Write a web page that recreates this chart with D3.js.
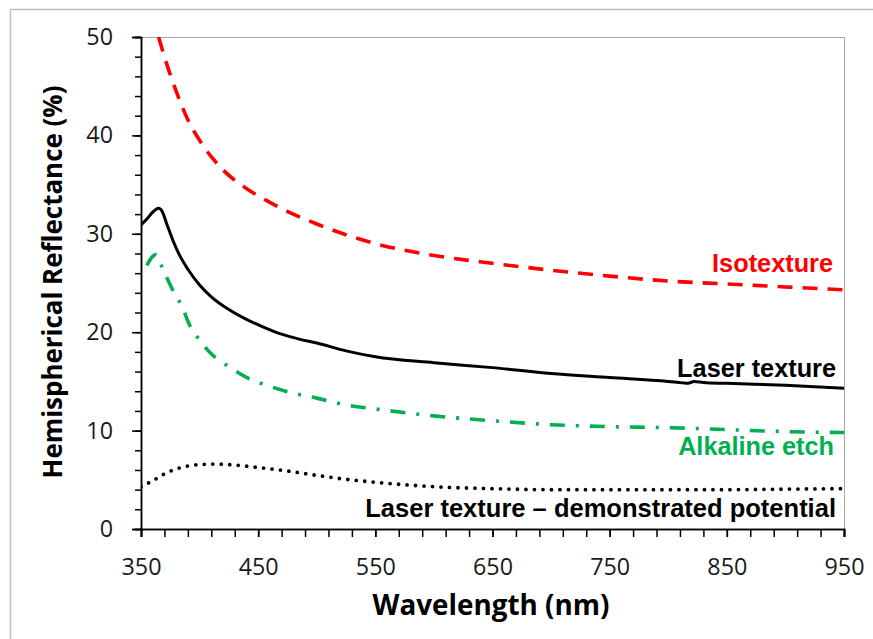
<!DOCTYPE html>
<html><head><meta charset="utf-8">
<script src="https://cdn.jsdelivr.net/npm/d3@7"></script>
<style>body{margin:0;background:#fff}</style></head>
<body>
<svg id="c" width="873" height="639"></svg>
<script>
// ---- data (wavelength nm, reflectance %) ----
const isotexture = [[365,50],[370,48],[380,44.5],[390,41.6],[400,39.5],[420,36.5],[440,34.6],[460,33.2],[480,32],[500,31],[550,29],[600,27.8],[650,27],[700,26.3],[750,25.7],[800,25.2],[850,24.9],[900,24.6],[950,24.3]];
const laserTexture = [[350,30.9],[355,31.5],[360,32.2],[365,32.6],[368,32.3],[372,31],[377,29.4],[383,27.8],[390,26.4],[400,24.8],[410,23.6],[425,22.3],[440,21.3],[455,20.5],[470,19.8],[485,19.3],[500,18.9],[525,18.1],[550,17.5],[600,16.9],[650,16.4],[700,15.8],[750,15.4],[800,15.0],[812,14.85],[817,14.8],[822,15.0],[830,14.9],[850,14.8],[900,14.6],[950,14.3]];
const alkalineEtch = [[355,26.8],[360,27.7],[363,27.9],[368,26.6],[377,24.3],[385,22.6],[392,20.6],[400,19.2],[410,17.8],[425,16.5],[440,15.4],[460,14.5],[480,13.8],[500,13.3],[525,12.6],[550,12.2],[600,11.5],[650,11.0],[700,10.6],[750,10.4],[800,10.3],[850,10.1],[900,9.9],[950,9.8]];
const demonstrated = [[350,4.3],[360,4.9],[370,5.6],[380,6.1],[390,6.4],[400,6.55],[415,6.6],[430,6.5],[450,6.25],[475,5.9],[500,5.45],[525,5.05],[550,4.75],[575,4.5],[600,4.3],[650,4.1],[700,4.0],[750,4.0],[800,4.0],[850,4.0],[900,4.05],[950,4.1]];
const xMajorTicks = [350,450,550,650,750,850,950];
const yMajorTicks = [0,10,20,30,40,50];
const seriesLabels = ["Isotexture","Laser texture","Alkaline etch","Laser texture \u2013 demonstrated potential"];
const xTitle = "Wavelength (nm)";
const yTitle = "Hemispherical Reflectance (%)";

const svg = d3.select("#c");
const x = d3.scaleLinear([350,950],[141,844]);
const y = d3.scaleLinear([0,50],[529,37]);

// outer chart border (left & top visible)
svg.append("path").attr("d","M10.5,639 V9.5 H873").attr("fill","none").attr("stroke","#bfbfbf").attr("stroke-width",1.5);
// plot area border (top & right)
svg.append("path").attr("d",`M${x(350)},${y(50)+0.5} H${x(950)+0.5} V${y(0)}`).attr("fill","none").attr("stroke","#a6a6a6").attr("stroke-width",1);

svg.append("clipPath").attr("id","clip").append("rect")
  .attr("x",x(350)).attr("y",y(50)).attr("width",x(950)-x(350)).attr("height",y(0)-y(50));

const line = d3.line().x(d=>x(d[0])).y(d=>y(d[1])).curve(d3.curveMonotoneX);
const g = svg.append("g").attr("clip-path","url(#clip)");
g.append("path").datum(demonstrated).attr("d",line).attr("fill","none").attr("stroke","#000").attr("stroke-width",3.8).attr("stroke-linecap","round").attr("stroke-dasharray","0 8.5");
g.append("path").datum(alkalineEtch).attr("d",line).attr("fill","none").attr("stroke","#00b050").attr("stroke-width",3.6).attr("stroke-dasharray","15 11 3 11");
g.append("path").datum(laserTexture).attr("d",line).attr("fill","none").attr("stroke","#000").attr("stroke-width",3);
g.append("path").datum(isotexture).attr("d",line).attr("fill","none").attr("stroke","#ff0000").attr("stroke-width",3.6).attr("stroke-dasharray","15 10");

function fit(sel,w){
  const l = sel.node().getComputedTextLength();
  sel.attr("font-size", parseFloat(sel.attr("font-size"))*w/l);
  return sel;
}

// measure tick font size so that "350" is ~40px wide
const tickFont = "'Open Sans', sans-serif";
const probe = svg.append("text").attr("font-family",tickFont).attr("font-size",23).text("350");
fit(probe,40);
const tickSize = parseFloat(probe.attr("font-size"));
probe.remove();

// axes
const yMinor = svg.append("g").attr("transform",`translate(${x(350)},0)`)
  .call(d3.axisLeft(y).tickValues(d3.range(0,51,2)).tickSize(6).tickFormat(""));
const yMaj = svg.append("g").attr("transform",`translate(${x(350)},0)`)
  .call(d3.axisLeft(y).tickValues(yMajorTicks).tickSize(9).tickPadding(19));
const xMinor = svg.append("g").attr("transform",`translate(0,${y(0)})`)
  .call(d3.axisBottom(x).tickValues(d3.range(350,951,20)).tickSize(8).tickFormat(""));
const xMaj = svg.append("g").attr("transform",`translate(0,${y(0)})`)
  .call(d3.axisBottom(x).tickValues(xMajorTicks).tickSize(8).tickPadding(21));
[yMinor,yMaj,xMinor,xMaj].forEach(a=>{
  a.selectAll("path,line").attr("stroke","#000").attr("stroke-width",1.5);
  a.selectAll("text").attr("font-family",tickFont).attr("font-size",tickSize).attr("fill","#1a1a1a");
});

// axis titles
fit(svg.append("text").attr("x",491).attr("y",615).attr("text-anchor","middle")
  .attr("font-family","'Open Sans', sans-serif").attr("font-weight","bold").attr("font-size",26).text(xTitle),237);
fit(svg.append("text").attr("transform","translate(62,282) rotate(-90)").attr("text-anchor","middle")
  .attr("font-family","'Open Sans', sans-serif").attr("font-weight","bold").attr("font-size",26).text(yTitle),393);

// series labels
const labelFont = "'Liberation Sans', Arial, sans-serif";
const lab = [
  {t:seriesLabels[0], xr:833, yb:272, w:121, c:"#ff0000"},
  {t:seriesLabels[1], xr:836, yb:377, w:159, c:"#000"},
  {t:seriesLabels[2], xr:834, yb:455, w:156, c:"#00b050"},
  {t:seriesLabels[3], xr:836, yb:517, w:471, c:"#000"}
];
lab.forEach(l=>{
  fit(svg.append("text").attr("x",l.xr).attr("y",l.yb).attr("text-anchor","end")
    .attr("font-family",labelFont).attr("font-weight","bold").attr("font-size",22).attr("fill",l.c).text(l.t), l.w);
});
</script>
</body></html>
